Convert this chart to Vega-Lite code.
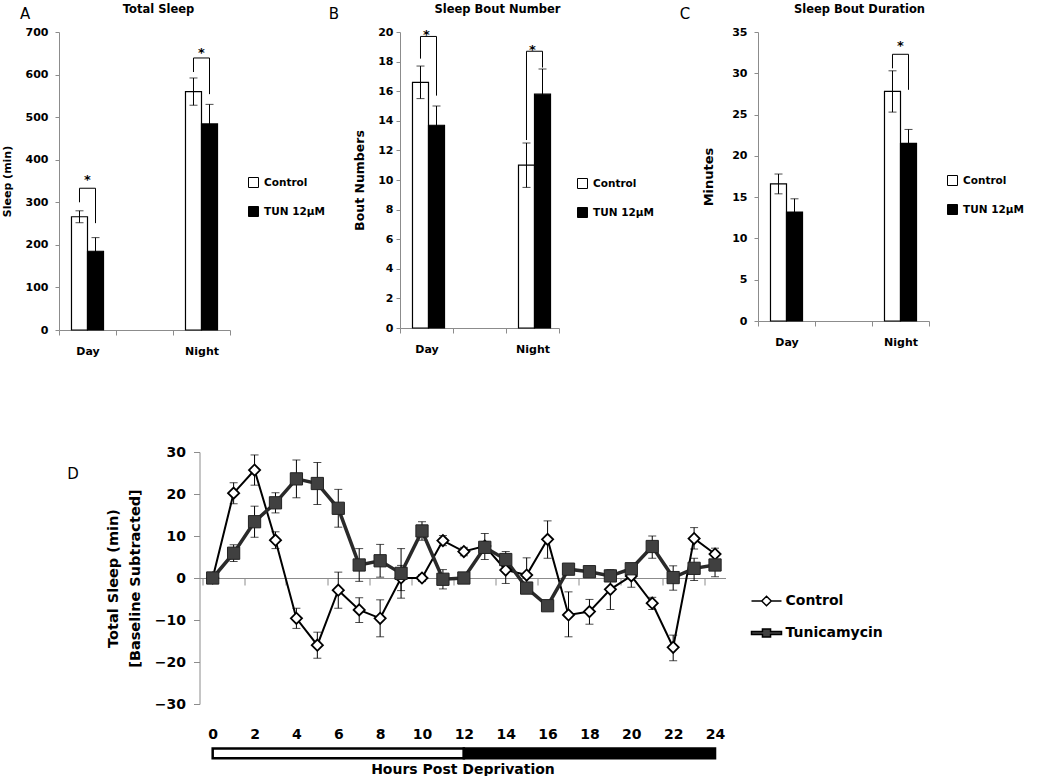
{
  "$schema": "https://vega.github.io/schema/vega-lite/v6.json",
  "background": "white",
  "padding": {"left": 1, "top": 3, "right": 0, "bottom": 0},
  "config": {
    "view": {"stroke": null},
    "font": "DejaVu Sans",
    "axis": {"domainColor": "#8c8c8c", "tickColor": "#8c8c8c", "labelColor": "black", "titleColor": "black", "labelFontWeight": "bold", "titleFontWeight": "bold", "grid": false, "labelFont": "DejaVu Sans", "titleFont": "DejaVu Sans", "labelOverlap": false},
    "title": {"font": "DejaVu Sans", "color": "black"},
    "legend": {"labelFont": "DejaVu Sans", "labelFontWeight": "bold", "labelFontSize": 10.5, "labelColor": "black", "symbolType": "square", "symbolSize": 100, "symbolStrokeColor": "black", "symbolStrokeWidth": 1, "rowPadding": 14, "labelOffset": 5, "padding": 0}
  },
  "datasets": {
    "barsA": [
      {"period": "Day", "group": "Control", "mean": 266, "lo": 252, "hi": 280},
      {"period": "Day", "group": "TUN 12µM", "mean": 185, "lo": 153, "hi": 217},
      {"period": "Night", "group": "Control", "mean": 560, "lo": 528, "hi": 592},
      {"period": "Night", "group": "TUN 12µM", "mean": 484, "lo": 438, "hi": 530}
    ],
    "brA": [
      {"period": "Day", "group": "Control", "y": 300, "k": 1},
      {"period": "Day", "group": "Control", "y": 333, "k": 2},
      {"period": "Day", "group": "TUN 12µM", "y": 333, "k": 3},
      {"period": "Day", "group": "TUN 12µM", "y": 251, "k": 4},
      {"period": "Night", "group": "Control", "y": 606, "k": 1},
      {"period": "Night", "group": "Control", "y": 639, "k": 2},
      {"period": "Night", "group": "TUN 12µM", "y": 639, "k": 3},
      {"period": "Night", "group": "TUN 12µM", "y": 554, "k": 4}
    ],
    "starA": [{"period": "Day", "y": 360}, {"period": "Night", "y": 658}],
    "barsB": [
      {"period": "Day", "group": "Control", "mean": 16.6, "lo": 15.5, "hi": 17.7},
      {"period": "Day", "group": "TUN 12µM", "mean": 13.7, "lo": 12.4, "hi": 15.0},
      {"period": "Night", "group": "Control", "mean": 11.0, "lo": 9.5, "hi": 12.5},
      {"period": "Night", "group": "TUN 12µM", "mean": 15.8, "lo": 14.1, "hi": 17.5}
    ],
    "brB": [
      {"period": "Day", "group": "Control", "y": 18.2, "k": 1},
      {"period": "Day", "group": "Control", "y": 19.7, "k": 2},
      {"period": "Day", "group": "TUN 12µM", "y": 19.7, "k": 3},
      {"period": "Day", "group": "TUN 12µM", "y": 15.7, "k": 4},
      {"period": "Night", "group": "Control", "y": 12.7, "k": 1},
      {"period": "Night", "group": "Control", "y": 18.7, "k": 2},
      {"period": "Night", "group": "TUN 12µM", "y": 18.7, "k": 3},
      {"period": "Night", "group": "TUN 12µM", "y": 17.6, "k": 4}
    ],
    "starB": [{"period": "Day", "y": 20.0}, {"period": "Night", "y": 19.0}],
    "barsC": [
      {"period": "Day", "group": "Control", "mean": 16.6, "lo": 15.4, "hi": 17.8},
      {"period": "Day", "group": "TUN 12µM", "mean": 13.2, "lo": 11.6, "hi": 14.8},
      {"period": "Night", "group": "Control", "mean": 27.8, "lo": 25.3, "hi": 30.3},
      {"period": "Night", "group": "TUN 12µM", "mean": 21.5, "lo": 19.8, "hi": 23.2}
    ],
    "brC": [
      {"period": "Night", "group": "Control", "y": 30.6, "k": 1},
      {"period": "Night", "group": "Control", "y": 32.3, "k": 2},
      {"period": "Night", "group": "TUN 12µM", "y": 32.3, "k": 3},
      {"period": "Night", "group": "TUN 12µM", "y": 28.0, "k": 4}
    ],
    "starC": [{"period": "Night", "y": 33.7}],
    "timebar": [
      {"phase": "light", "start": 0, "end": 12},
      {"phase": "dark", "start": 12, "end": 24}
    ],
    "sleepD": [
      {"hour": 0, "series": "Control", "v": 0, "lo": 0, "hi": 0},
      {"hour": 1, "series": "Control", "v": 20.2, "lo": 17.7, "hi": 22.7},
      {"hour": 2, "series": "Control", "v": 25.7, "lo": 22.1, "hi": 29.3},
      {"hour": 3, "series": "Control", "v": 9.0, "lo": 7.0, "hi": 11.0},
      {"hour": 4, "series": "Control", "v": -9.6, "lo": -12.0, "hi": -7.2},
      {"hour": 5, "series": "Control", "v": -16.0, "lo": -19.1, "hi": -12.9},
      {"hour": 6, "series": "Control", "v": -2.9, "lo": -7.2, "hi": 1.4},
      {"hour": 7, "series": "Control", "v": -7.6, "lo": -10.6, "hi": -4.7},
      {"hour": 8, "series": "Control", "v": -9.6, "lo": -14.0, "hi": -5.2},
      {"hour": 9, "series": "Control", "v": 0.0, "lo": -3.0, "hi": 3.0},
      {"hour": 10, "series": "Control", "v": 0.0, "lo": -0.8, "hi": 0.8},
      {"hour": 11, "series": "Control", "v": 8.9, "lo": 7.7, "hi": 10.1},
      {"hour": 12, "series": "Control", "v": 6.3, "lo": 5.3, "hi": 7.3},
      {"hour": 13, "series": "Control", "v": 7.6, "lo": 6.5, "hi": 8.7},
      {"hour": 14, "series": "Control", "v": 1.9, "lo": -1.3, "hi": 5.1},
      {"hour": 15, "series": "Control", "v": 0.7, "lo": -3.4, "hi": 4.8},
      {"hour": 16, "series": "Control", "v": 9.2, "lo": 4.7, "hi": 13.6},
      {"hour": 17, "series": "Control", "v": -8.8, "lo": -14.0, "hi": -3.3},
      {"hour": 18, "series": "Control", "v": -8.0, "lo": -11.0, "hi": -5.1},
      {"hour": 19, "series": "Control", "v": -2.7, "lo": -7.5, "hi": 2.0},
      {"hour": 20, "series": "Control", "v": 0.5, "lo": -2.2, "hi": 3.2},
      {"hour": 21, "series": "Control", "v": -6.0, "lo": -7.5, "hi": -4.6},
      {"hour": 22, "series": "Control", "v": -16.5, "lo": -19.7, "hi": -13.6},
      {"hour": 23, "series": "Control", "v": 9.4, "lo": 6.9, "hi": 12.0},
      {"hour": 24, "series": "Control", "v": 5.7, "lo": 4.3, "hi": 7.1},
      {"hour": 0, "series": "Tunicamycin", "v": 0, "lo": 0, "hi": 0},
      {"hour": 1, "series": "Tunicamycin", "v": 5.9, "lo": 3.9, "hi": 7.9},
      {"hour": 2, "series": "Tunicamycin", "v": 13.4, "lo": 9.7, "hi": 17.1},
      {"hour": 3, "series": "Tunicamycin", "v": 17.9, "lo": 15.5, "hi": 20.3},
      {"hour": 4, "series": "Tunicamycin", "v": 23.6, "lo": 19.1, "hi": 28.1},
      {"hour": 5, "series": "Tunicamycin", "v": 22.5, "lo": 17.5, "hi": 27.5},
      {"hour": 6, "series": "Tunicamycin", "v": 16.6, "lo": 12.1, "hi": 21.1},
      {"hour": 7, "series": "Tunicamycin", "v": 3.1, "lo": -0.8, "hi": 7.0},
      {"hour": 8, "series": "Tunicamycin", "v": 4.1, "lo": 0.2, "hi": 8.0},
      {"hour": 9, "series": "Tunicamycin", "v": 1.1, "lo": -4.8, "hi": 7.0},
      {"hour": 10, "series": "Tunicamycin", "v": 11.2, "lo": 9.0, "hi": 13.4},
      {"hour": 11, "series": "Tunicamycin", "v": -0.3, "lo": -2.6, "hi": 2.0},
      {"hour": 12, "series": "Tunicamycin", "v": 0.0, "lo": -0.5, "hi": 0.5},
      {"hour": 13, "series": "Tunicamycin", "v": 7.3, "lo": 4.4, "hi": 10.6},
      {"hour": 14, "series": "Tunicamycin", "v": 4.4, "lo": 2.5, "hi": 6.3},
      {"hour": 15, "series": "Tunicamycin", "v": -2.4, "lo": -3.5, "hi": -1.3},
      {"hour": 16, "series": "Tunicamycin", "v": -6.6, "lo": -7.5, "hi": -5.7},
      {"hour": 17, "series": "Tunicamycin", "v": 2.1, "lo": 1.2, "hi": 3.0},
      {"hour": 18, "series": "Tunicamycin", "v": 1.5, "lo": 0.6, "hi": 2.4},
      {"hour": 19, "series": "Tunicamycin", "v": 0.5, "lo": -0.3, "hi": 1.3},
      {"hour": 20, "series": "Tunicamycin", "v": 2.2, "lo": 1.2, "hi": 3.2},
      {"hour": 21, "series": "Tunicamycin", "v": 7.5, "lo": 4.7, "hi": 10.0},
      {"hour": 22, "series": "Tunicamycin", "v": 0.1, "lo": -2.9, "hi": 2.9},
      {"hour": 23, "series": "Tunicamycin", "v": 2.3, "lo": -0.6, "hi": 4.7},
      {"hour": 24, "series": "Tunicamycin", "v": 3.1, "lo": 0.3, "hi": 5.9}
    ]
  },
  "vconcat": [
    {
      "resolve": {"scale": {"fill": "independent"}, "legend": {"fill": "independent"}},
      "hconcat": [
        {
          "title": {"text": "A", "anchor": "start", "frame": "bounds", "offset": -18, "dx": 19, "fontSize": 15, "fontWeight": "normal"},
          "hconcat": [
            {
              "width": 171, "height": 298,
              "title": {"text": "Total Sleep", "fontSize": 11.5, "fontWeight": "bold", "dx": 14, "offset": 11},
              "layer": [
                {"data": {"name": "barsA"}, "mark": {"type": "bar", "stroke": "black", "strokeWidth": 1.2},
                  "encoding": {
                    "x": {"field": "period", "type": "nominal", "scale": {"domain": ["Day", "gap", "Night"], "paddingInner": 0, "paddingOuter": 0}, "axis": {"title": null, "labelAngle": 0, "labelExpr": "datum.value == 'gap' ? '' : datum.value", "tickBand": "extent", "tickSize": 5, "labelPadding": 10, "labelFontSize": 11}},
                    "xOffset": {"field": "group", "type": "nominal", "scale": {"domain": ["Control", "TUN 12µM"], "paddingInner": 0, "paddingOuter": 0.78}},
                    "y": {"field": "mean", "type": "quantitative", "scale": {"domain": [0, 700]}, "axis": {"title": "Sleep (min)", "values": [0, 100, 200, 300, 400, 500, 600, 700], "tickCount": 8, "labelOverlap": false, "tickSize": 4, "labelPadding": 7, "labelFontSize": 11, "titleFontSize": 11, "titlePadding": 13}},
                    "fill": {"field": "group", "type": "nominal", "scale": {"domain": ["Control", "TUN 12µM"], "range": ["white", "black"]}, "legend": {"title": null, "orient": "none", "legendX": 189, "legendY": 145}}
                  }},
                {"data": {"name": "barsA"}, "mark": {"type": "rule", "color": "black", "strokeWidth": 1},
                  "encoding": {"x": {"field": "period", "type": "nominal"}, "xOffset": {"field": "group", "type": "nominal"}, "y": {"field": "lo", "type": "quantitative"}, "y2": {"field": "hi"}}},
                {"data": {"name": "barsA"}, "mark": {"type": "tick", "orient": "horizontal", "size": 8, "thickness": 1, "color": "black"},
                  "encoding": {"x": {"field": "period", "type": "nominal"}, "xOffset": {"field": "group", "type": "nominal"}, "y": {"field": "lo", "type": "quantitative"}}},
                {"data": {"name": "barsA"}, "mark": {"type": "tick", "orient": "horizontal", "size": 8, "thickness": 1, "color": "black"},
                  "encoding": {"x": {"field": "period", "type": "nominal"}, "xOffset": {"field": "group", "type": "nominal"}, "y": {"field": "hi", "type": "quantitative"}}},
                {"data": {"name": "brA"}, "mark": {"type": "line", "color": "black", "strokeWidth": 1},
                  "encoding": {"x": {"field": "period", "type": "nominal"}, "xOffset": {"field": "group", "type": "nominal"}, "y": {"field": "y", "type": "quantitative"}, "detail": {"field": "period"}, "order": {"field": "k"}}},
                {"data": {"name": "starA"}, "mark": {"type": "text", "text": "*", "fontSize": 13, "fontWeight": "bold", "baseline": "middle", "dy": 3},
                  "encoding": {"x": {"field": "period", "type": "nominal"}, "y": {"field": "y", "type": "quantitative"}}}
              ]
            }
          ]
        },
        {
          "title": {"text": "B", "anchor": "start", "frame": "bounds", "offset": -18, "dx": -25, "fontSize": 15, "fontWeight": "normal"},
          "hconcat": [
            {
              "width": 159, "height": 296,
              "title": {"text": "Sleep Bout Number", "fontSize": 11.5, "fontWeight": "bold", "dx": 18, "offset": 11},
              "layer": [
                {"data": {"name": "barsB"}, "mark": {"type": "bar", "stroke": "black", "strokeWidth": 1.2},
                  "encoding": {
                    "x": {"field": "period", "type": "nominal", "scale": {"domain": ["Day", "gap", "Night"], "paddingInner": 0, "paddingOuter": 0}, "axis": {"title": null, "labelAngle": 0, "labelExpr": "datum.value == 'gap' ? '' : datum.value", "tickBand": "extent", "tickSize": 5, "labelPadding": 10, "labelFontSize": 11}},
                    "xOffset": {"field": "group", "type": "nominal", "scale": {"domain": ["Control", "TUN 12µM"], "paddingInner": 0, "paddingOuter": 0.77}},
                    "y": {"field": "mean", "type": "quantitative", "scale": {"domain": [0, 20]}, "axis": {"title": "Bout Numbers", "values": [0, 2, 4, 6, 8, 10, 12, 14, 16, 18, 20], "tickCount": 11, "labelOverlap": false, "tickSize": 4, "labelPadding": 3, "labelFontSize": 11, "titleFontSize": 12.5, "titlePadding": 11}},
                    "fill": {"field": "group", "type": "nominal", "scale": {"domain": ["Control", "TUN 12µM"], "range": ["white", "black"]}, "legend": {"title": null, "orient": "none", "legendX": 155, "legendY": 124, "padding": 22}}
                  }},
                {"data": {"name": "barsB"}, "mark": {"type": "rule", "color": "black", "strokeWidth": 1},
                  "encoding": {"x": {"field": "period", "type": "nominal"}, "xOffset": {"field": "group", "type": "nominal"}, "y": {"field": "lo", "type": "quantitative"}, "y2": {"field": "hi"}}},
                {"data": {"name": "barsB"}, "mark": {"type": "tick", "orient": "horizontal", "size": 8, "thickness": 1, "color": "black"},
                  "encoding": {"x": {"field": "period", "type": "nominal"}, "xOffset": {"field": "group", "type": "nominal"}, "y": {"field": "lo", "type": "quantitative"}}},
                {"data": {"name": "barsB"}, "mark": {"type": "tick", "orient": "horizontal", "size": 8, "thickness": 1, "color": "black"},
                  "encoding": {"x": {"field": "period", "type": "nominal"}, "xOffset": {"field": "group", "type": "nominal"}, "y": {"field": "hi", "type": "quantitative"}}},
                {"data": {"name": "brB"}, "mark": {"type": "line", "color": "black", "strokeWidth": 1},
                  "encoding": {"x": {"field": "period", "type": "nominal"}, "xOffset": {"field": "group", "type": "nominal"}, "y": {"field": "y", "type": "quantitative"}, "detail": {"field": "period"}, "order": {"field": "k"}}},
                {"data": {"name": "starB"}, "mark": {"type": "text", "text": "*", "fontSize": 13, "fontWeight": "bold", "baseline": "middle", "dy": 3},
                  "encoding": {"x": {"field": "period", "type": "nominal"}, "y": {"field": "y", "type": "quantitative"}}}
              ]
            }
          ]
        },
        {
          "title": {"text": "C", "anchor": "start", "frame": "bounds", "offset": -18, "dx": -23, "fontSize": 15, "fontWeight": "normal"},
          "hconcat": [
            {
              "width": 171, "height": 289,
              "title": {"text": "Sleep Bout Duration", "fontSize": 11.5, "fontWeight": "bold", "dx": 16, "offset": 11},
              "layer": [
                {"data": {"name": "barsC"}, "mark": {"type": "bar", "stroke": "black", "strokeWidth": 1.2},
                  "encoding": {
                    "x": {"field": "period", "type": "nominal", "scale": {"domain": ["Day", "gap", "Night"], "paddingInner": 0, "paddingOuter": 0}, "axis": {"title": null, "labelAngle": 0, "labelExpr": "datum.value == 'gap' ? '' : datum.value", "tickBand": "extent", "tickSize": 5, "labelPadding": 10, "labelFontSize": 11}},
                    "xOffset": {"field": "group", "type": "nominal", "scale": {"domain": ["Control", "TUN 12µM"], "paddingInner": 0, "paddingOuter": 0.78}},
                    "y": {"field": "mean", "type": "quantitative", "scale": {"domain": [0, 35]}, "axis": {"title": "Minutes", "values": [0, 5, 10, 15, 20, 25, 30, 35], "tickCount": 8, "labelOverlap": false, "tickSize": 4, "labelPadding": 7, "labelFontSize": 11, "titleFontSize": 13, "titlePadding": 16}},
                    "fill": {"field": "group", "type": "nominal", "scale": {"domain": ["Control", "TUN 12µM"], "range": ["white", "black"]}, "legend": {"title": null, "orient": "none", "legendX": 189, "legendY": 143}}
                  }},
                {"data": {"name": "barsC"}, "mark": {"type": "rule", "color": "black", "strokeWidth": 1},
                  "encoding": {"x": {"field": "period", "type": "nominal"}, "xOffset": {"field": "group", "type": "nominal"}, "y": {"field": "lo", "type": "quantitative"}, "y2": {"field": "hi"}}},
                {"data": {"name": "barsC"}, "mark": {"type": "tick", "orient": "horizontal", "size": 8, "thickness": 1, "color": "black"},
                  "encoding": {"x": {"field": "period", "type": "nominal"}, "xOffset": {"field": "group", "type": "nominal"}, "y": {"field": "lo", "type": "quantitative"}}},
                {"data": {"name": "barsC"}, "mark": {"type": "tick", "orient": "horizontal", "size": 8, "thickness": 1, "color": "black"},
                  "encoding": {"x": {"field": "period", "type": "nominal"}, "xOffset": {"field": "group", "type": "nominal"}, "y": {"field": "hi", "type": "quantitative"}}},
                {"data": {"name": "brC"}, "mark": {"type": "line", "color": "black", "strokeWidth": 1},
                  "encoding": {"x": {"field": "period", "type": "nominal"}, "xOffset": {"field": "group", "type": "nominal"}, "y": {"field": "y", "type": "quantitative"}, "detail": {"field": "period"}, "order": {"field": "k"}}},
                {"data": {"name": "starC"}, "mark": {"type": "text", "text": "*", "fontSize": 13, "fontWeight": "bold", "baseline": "middle", "dy": 3},
                  "encoding": {"x": {"field": "period", "type": "nominal"}, "y": {"field": "y", "type": "quantitative"}}}
              ]
            }
          ]
        }
      ],
      "spacing": 3
    },
    {
      "title": {"text": "D", "anchor": "start", "frame": "bounds", "offset": -37, "dx": -38, "fontSize": 15, "fontWeight": "normal"},
      "hconcat": [
        {
          "width": 526, "height": 252,
          "layer": [
            {"data": {"name": "timebar"}, "mark": {"type": "rect", "stroke": "black", "strokeWidth": 2.5},
              "encoding": {
                "x": {"field": "start", "type": "quantitative", "scale": {"domain": [-0.63, 24.5], "nice": false, "zero": false},
                  "axis": {"title": "Hours Post Deprivation", "values": [0, 1, 2, 3, 4, 5, 6, 7, 8, 9, 10, 11, 12, 13, 14, 15, 16, 17, 18, 19, 20, 21, 22, 23, 24], "offset": -126, "tickOffset": -10.47, "labelOffset": 10.47, "labelExpr": "datum.value % 2 === 0 ? datum.label : ''", "tickSize": 7, "labelPadding": 142, "labelFontSize": 14, "titleFontSize": 14, "titlePadding": 21, "labelFlush": false, "labelOverlap": false}},
                "x2": {"field": "end"},
                "y": {"datum": -40.6, "type": "quantitative", "scale": {"domain": [-30, 30], "nice": false},
                  "axis": {"title": ["Total Sleep (min)", "[Baseline Subtracted]"], "values": [-30, -20, -10, 0, 10, 20, 30], "tickCount": 7, "tickSize": 6, "labelPadding": 8, "labelFontSize": 14, "titleFontSize": 14.5, "titlePadding": 12, "titleLineHeight": 22}},
                "y2": {"datum": -42.9},
                "fill": {"condition": {"test": "datum.phase === 'light'", "value": "white"}, "value": "black"}
              }},
            {"data": {"name": "sleepD"}, "mark": {"type": "rule", "color": "black", "strokeWidth": 1},
              "encoding": {"x": {"field": "hour", "type": "quantitative"}, "y": {"field": "lo", "type": "quantitative"}, "y2": {"field": "hi"}}},
            {"data": {"name": "sleepD"}, "mark": {"type": "tick", "orient": "horizontal", "size": 8, "thickness": 1, "color": "black"},
              "encoding": {"x": {"field": "hour", "type": "quantitative"}, "y": {"field": "lo", "type": "quantitative"}}},
            {"data": {"name": "sleepD"}, "mark": {"type": "tick", "orient": "horizontal", "size": 8, "thickness": 1, "color": "black"},
              "encoding": {"x": {"field": "hour", "type": "quantitative"}, "y": {"field": "hi", "type": "quantitative"}}},
            {"data": {"name": "sleepD"}, "transform": [{"filter": "datum.series === 'Control'"}], "mark": {"type": "line", "color": "black", "strokeWidth": 2},
              "encoding": {"x": {"field": "hour", "type": "quantitative"}, "y": {"field": "v", "type": "quantitative"}}},
            {"data": {"name": "sleepD"}, "transform": [{"filter": "datum.series === 'Tunicamycin'"}], "mark": {"type": "line", "color": "#2a2a2a", "strokeWidth": 3.5},
              "encoding": {"x": {"field": "hour", "type": "quantitative"}, "y": {"field": "v", "type": "quantitative"}}},
            {"data": {"name": "sleepD"}, "transform": [{"filter": "datum.series === 'Control'"}], "mark": {"type": "point", "shape": "diamond", "size": 125, "filled": true, "fill": "white", "stroke": "black", "strokeWidth": 1.8, "opacity": 1},
              "encoding": {"x": {"field": "hour", "type": "quantitative"}, "y": {"field": "v", "type": "quantitative"}}},
            {"data": {"name": "sleepD"}, "transform": [{"filter": "datum.series === 'Tunicamycin'"}], "mark": {"type": "point", "shape": "square", "size": 150, "filled": true, "fill": "#404040", "stroke": "#222222", "strokeWidth": 1, "opacity": 1},
              "encoding": {"x": {"field": "hour", "type": "quantitative"}, "y": {"field": "v", "type": "quantitative"}}},
            {"data": {"name": "sleepD"}, "transform": [{"filter": "false"}], "mark": {"type": "point", "filled": true, "strokeWidth": 1.5, "opacity": 1},
              "encoding": {
                "shape": {"field": "series", "type": "nominal", "scale": {"domain": ["Control", "Tunicamycin"], "range": ["M-1,0H-0.32M0.32,0H1M-0.32,0L0,-0.32L0.32,0L0,0.32Z", "M-1,-0.1H-0.27V-0.27H0.27V-0.1H1V0.1H0.27V0.27H-0.27V0.1H-1Z"]},
                  "legend": {"title": null, "orient": "none", "legendX": 551, "legendY": 133, "padding": 0, "symbolSize": 900, "symbolStrokeWidth": 1.5, "labelFontSize": 14, "labelOffset": 3, "rowPadding": 8}},
                "fill": {"field": "series", "type": "nominal", "scale": {"domain": ["Control", "Tunicamycin"], "range": ["white", "#404040"]},
                  "legend": {"title": null, "orient": "none", "legendX": 551, "legendY": 133, "padding": 0, "symbolSize": 900, "symbolStrokeWidth": 1.5, "labelFontSize": 14, "labelOffset": 3, "rowPadding": 8}},
                "stroke": {"field": "series", "type": "nominal", "scale": {"domain": ["Control", "Tunicamycin"], "range": ["black", "black"]},
                  "legend": {"title": null, "orient": "none", "legendX": 551, "legendY": 133, "padding": 0, "symbolSize": 900, "symbolStrokeWidth": 1.5, "labelFontSize": 14, "labelOffset": 3, "rowPadding": 8}}
              }}
          ]
        }
      ]
    }
  ],
  "resolve": {"scale": {"fill": "independent", "shape": "independent", "stroke": "independent"}, "legend": {"fill": "independent", "shape": "independent", "stroke": "independent"}},
  "spacing": 89,
  "center": true
}
